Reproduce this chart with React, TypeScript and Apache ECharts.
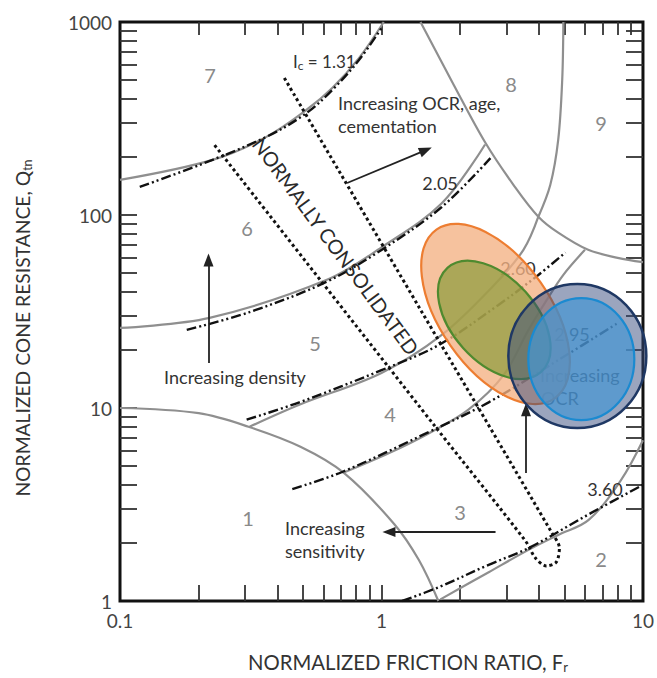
import React, { useEffect, useRef } from 'react';
import * as echarts from 'echarts';

const FONT = 'Lato, "Open Sans", "DejaVu Sans", sans-serif';

// ---- axes ----
const X_TICK_LABELS = ['0.1', '1', '10'];
const Y_TICK_LABELS = ['1', '10', '100', '1000'];
const X_TICKS = [0.2, 0.3, 0.4, 0.5, 0.6, 0.7, 0.8, 0.9, 1, 2, 3, 4, 5, 6, 7, 8, 9];
const Y_TICKS = [2, 3, 4, 5, 6, 7, 8, 9, 10, 20, 30, 40, 50, 60, 70, 80, 90, 100, 200, 300, 400, 500, 600, 700, 800, 900];

// ---- zone boundaries (Fr %, Qtn) ----
const ZONE1_BOUNDARY = [[0.1, 10], [0.2, 9.4], [0.31, 8.0], [0.49, 6.3], [0.72, 4.6], [1.12, 2.5], [1.39, 1.63], [1.65, 1.0]];
const ZONE2_BOUNDARY = [[1.68, 1.02], [2.57, 1.41], [3.65, 1.84], [4.74, 2.2], [6.2, 2.63], [8.25, 4.24], [10, 6.8]];
const ZONE67_BOUNDARY = [[0.1, 152], [0.226, 193], [0.363, 254], [0.516, 350], [0.648, 455], [0.82, 650], [1.02, 1000]];
const ZONE56_BOUNDARY = [[0.1, 26], [0.22, 29.3], [0.615, 46], [1.0, 68], [1.7, 115], [2.49, 232]];
const ZONE45_BOUNDARY = [[0.313, 8.0], [0.485, 10.4], [1.0, 15.2], [1.7, 23.9], [2.68, 43], [3.49, 66], [3.98, 98]];
const ZONE34_BOUNDARY = [[0.71, 4.6], [1.07, 5.84], [1.52, 7.4], [2.15, 9.8], [2.93, 14.8], [3.65, 25.4], [4.27, 36], [4.96, 49], [6.0, 66]];
const ZONE89_LOWER = [[1.41, 1000], [1.89, 472], [2.5, 236], [3.2, 143], [3.98, 98], [4.74, 81], [6.17, 66], [8.0, 60], [10, 57]];
const ZONE8_9_DIVIDE = [[4.96, 1000], [4.91, 500], [4.74, 245], [4.42, 143], [3.98, 98]];

// ---- Ic contours ----
const IC_131 = [[0.119, 140], [0.202, 182], [0.363, 254], [0.516, 337], [0.648, 444], [0.82, 635], [1.0, 930]];
const IC_205 = [[0.18, 25.4], [0.313, 31.4], [0.615, 45], [1.0, 65.9], [1.7, 110], [2.61, 197]];
const IC_260 = [[0.305, 8.7], [0.485, 10.7], [1.0, 15.7], [1.656, 21.2], [2.8, 34.2], [3.98, 48.9], [5.05, 64]];
const IC_295 = [[0.456, 3.8], [0.707, 4.66], [1.517, 7.51], [2.57, 10.7], [4.74, 17.7], [8.03, 27.6]];
const IC_360 = [[1.2, 1.0], [1.656, 1.18], [2.57, 1.54], [3.65, 1.88], [6.34, 2.86], [10, 4.0]];

// ---- normally consolidated region ----
const NC_BOUNDARY = [[0.23, 230], [1.61, 7.97], [3.55, 2.05], [3.88, 1.67], [4.27, 1.52], [4.66, 1.59], [4.79, 1.88], [4.46, 2.28], [1.39, 33.4], [0.425, 513]];

// ---- arrows [from, to] ----
const ARROW_OCR_AGE = [[0.739, 146.5], [1.477, 217]];
const ARROW_DENSITY = [[0.218, 17.1], [0.218, 58.5]];
const ARROW_SENSITIVITY = [[2.73, 2.28], [1.068, 2.28]];
const ARROW_OCR = [[3.57, 4.6], [3.57, 9.8]];

// ---- ellipse centres (Fr, Qtn) ----
const ELLIPSE_CENTERS = [[2.73, 30.7], [2.70, 28.6], [5.61, 18.6], [5.81, 17.9]];
const ELLIPSE_STYLES = [
  { rx: 103, ry: 55, rot: -55, fill: 'rgba(244,177,131,0.78)', stroke: '#ed7d31', lw: 2.2 },
  { rx: 70, ry: 42, rot: -48, fill: 'rgba(125,150,45,0.62)', stroke: '#4f8a2f', lw: 2.2 },
  { rx: 69, ry: 72, rot: 0, fill: 'rgba(55,75,125,0.5)', stroke: '#1f3864', lw: 2.5 },
  { rx: 53, ry: 61, rot: 0, fill: 'rgba(70,150,210,0.72)', stroke: '#1b8ad0', lw: 2.2 },
];

const grayLine = (data: number[][]) => ({
  type: 'line', data, smooth: 0.35, showSymbol: false, symbol: 'none', silent: true, z: 2,
  lineStyle: { color: '#8f8f8f', width: 2.2 },
});
const dashDot = (data: number[][]) => ({
  type: 'line', data, smooth: 0.35, showSymbol: false, symbol: 'none', silent: true, z: 3,
  lineStyle: { color: '#111', width: 2.4, type: [10, 3, 2, 3, 2, 3] },
});

const txt = (text: string, x: number, y: number, o: any = {}) => ({
  type: 'text', x, y, z: 4, silent: true, rotation: o.rotation || 0,
  style: {
    text,
    fill: o.fill || '#333',
    fontSize: o.fontSize || 18,
    fontFamily: FONT,
    align: o.align || 'left',
    verticalAlign: 'middle',
    textAlign: o.align || 'left',
    textVerticalAlign: 'middle',
    rich: o.rich,
  },
});

const tickStyle = { color: '#333', width: 1.8 };

export default function App() {
  const ref = useRef<HTMLDivElement>(null);
  useEffect(() => {
    if (!ref.current) return;
    const chart = echarts.init(ref.current, undefined, { renderer: 'svg' });
    const zoneNum = (t: string, x: number, y: number) => txt(t, x, y, { fill: '#8a8a8a', fontSize: 20, align: 'center' });
    const xBase = {
      type: 'log', logBase: 10, min: 0.1, max: 10,
      axisLine: { show: false }, splitLine: { show: false },
    };
    const yBase = {
      type: 'log', logBase: 10, min: 1, max: 1000,
      axisLine: { show: false }, splitLine: { show: false },
    };
    const option: any = {
      animation: false,
      grid: { left: 120, top: 22, right: 12, bottom: 77, show: true, borderColor: '#111', borderWidth: 3, backgroundColor: 'transparent' },
      xAxis: [
        {
          ...xBase, position: 'bottom',
          axisTick: { show: true, inside: true, length: 16, customValues: X_TICKS, lineStyle: tickStyle },
          axisLabel: {
            fontSize: 19, color: '#444', fontFamily: FONT, margin: 10, showMinLabel: true, showMaxLabel: true,
            formatter: (v: number) => X_TICK_LABELS[Math.round(Math.log10(v)) + 1] ?? '',
          },
        },
        {
          ...xBase, position: 'top',
          axisTick: { show: true, inside: true, length: 13, customValues: X_TICKS, lineStyle: tickStyle },
          axisLabel: { show: false },
        },
      ],
      yAxis: [
        {
          ...yBase, position: 'left',
          axisTick: { show: true, inside: true, length: 17, customValues: Y_TICKS, lineStyle: tickStyle },
          axisLabel: {
            fontSize: 19, color: '#444', fontFamily: FONT, margin: 8, showMinLabel: true, showMaxLabel: true,
            formatter: (v: number) => Y_TICK_LABELS[Math.round(Math.log10(v))] ?? '',
          },
        },
        {
          ...yBase, position: 'right',
          axisTick: { show: true, inside: true, length: 17, customValues: Y_TICKS, lineStyle: tickStyle },
          axisLabel: { show: false },
        },
      ],
      series: [
        grayLine(ZONE1_BOUNDARY),
        grayLine(ZONE2_BOUNDARY),
        grayLine(ZONE67_BOUNDARY),
        grayLine(ZONE56_BOUNDARY),
        grayLine(ZONE45_BOUNDARY),
        grayLine(ZONE34_BOUNDARY),
        grayLine(ZONE89_LOWER),
        grayLine(ZONE8_9_DIVIDE),
        dashDot(IC_131),
        dashDot(IC_205),
        dashDot(IC_260),
        dashDot(IC_295),
        dashDot(IC_360),
        {
          type: 'line', data: NC_BOUNDARY, smooth: 0.3, showSymbol: false, symbol: 'none', silent: true, z: 3,
          lineStyle: { color: '#111', width: 3, type: [3, 3] },
          markLine: {
            silent: true, symbol: ['none', 'triangle'], symbolSize: [10, 13], precision: 6,
            lineStyle: { color: '#222', width: 1.8, type: 'solid' },
            label: { show: false },
            data: [ARROW_OCR_AGE, ARROW_DENSITY, ARROW_SENSITIVITY, ARROW_OCR].map((a) => [
              { coord: a[0] }, { coord: a[1] },
            ]),
          },
        },
        {
          type: 'custom', coordinateSystem: 'cartesian2d', silent: true, clip: false, z: 10,
          data: ELLIPSE_CENTERS.map((c, i) => [c[0], c[1], i]),
          renderItem: (_p: any, api: any) => {
            const p = api.coord([api.value(0), api.value(1)]);
            const s = ELLIPSE_STYLES[api.value(2)];
            return {
              type: 'ellipse', x: p[0], y: p[1], rotation: (s.rot * Math.PI) / 180,
              shape: { cx: 0, cy: 0, rx: s.rx, ry: s.ry },
              style: { fill: s.fill, stroke: s.stroke, lineWidth: s.lw },
            };
          },
        },
      ],
      graphic: [
        zoneNum('7', 210, 75), zoneNum('8', 511, 84), zoneNum('9', 601, 123),
        zoneNum('6', 247, 228), zoneNum('5', 315, 343), zoneNum('4', 390, 414),
        zoneNum('3', 460, 512), zoneNum('2', 601, 559), zoneNum('1', 248, 518),
        txt('Increasing OCR, age,', 338, 103),
        txt('cementation', 338, 126),
        txt('Increasing density', 235, 377, { align: 'center' }),
        txt('Increasing', 285, 528),
        txt('sensitivity', 285, 551),
        txt('Increasing', 540, 375),
        txt('OCR', 541, 398),
        txt('2.05', 440, 183, { align: 'center' }),
        txt('2.60', 518, 268, { align: 'center' }),
        txt('2.95', 572, 334, { align: 'center' }),
        txt('3.60', 605, 489, { align: 'center' }),
        txt('{a|I}{s|c}{a| = 1.31}', 293, 61, {
          rich: { a: { fontSize: 17, fontFamily: FONT, color: '#222' }, s: { fontSize: 12, fontFamily: FONT, color: '#222', padding: [9, 0, 0, 0] } },
        }),
        txt('NORMALLY CONSOLIDATED', 336, 246, { align: 'center', fontSize: 20, fill: '#2a2a2a', rotation: (-53.5 * Math.PI) / 180 }),
        txt('{a|NORMALIZED FRICTION RATIO, F}{s|r}', 408, 662, {
          align: 'center',
          rich: { a: { fontSize: 20.3, fontFamily: FONT, color: '#333' }, s: { fontSize: 13, fontFamily: FONT, color: '#333', padding: [10, 0, 0, 0] } },
        }),
        txt('{a|NORMALIZED CONE RESISTANCE, Q}{s|tn}', 22, 328, {
          align: 'center', rotation: Math.PI / 2,
          rich: { a: { fontSize: 19.3, fontFamily: FONT, color: '#333' }, s: { fontSize: 12.5, fontFamily: FONT, color: '#333', padding: [10, 0, 0, 0] } },
        }),
      ],
    };
    chart.setOption(option);
    return () => chart.dispose();
  }, []);
  return <div ref={ref} style={{ position: 'fixed', left: 0, top: 0, width: 657, height: 678, background: '#fff' }} />;
}
